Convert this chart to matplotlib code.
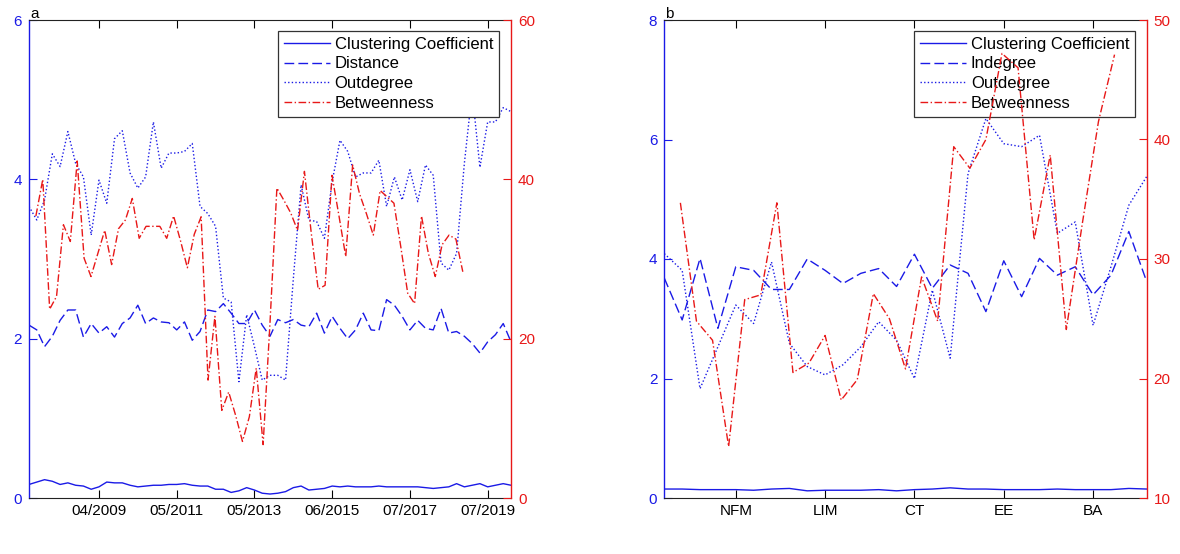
import matplotlib
matplotlib.use("Agg")
import matplotlib.pyplot as plt

plt.rcParams['font.family'] = ['Liberation Sans', 'DejaVu Sans']
plt.rcParams['font.size'] = 11

# ---------------- Panel a data ----------------
a_tick_pos = [10, 20, 30, 40, 50, 60]
a_tick_labels = ["04/2009", "05/2011", "05/2013", "06/2015", "07/2017", "07/2019"]

a_clustering = [0.17, 0.20, 0.23, 0.21, 0.17, 0.19, 0.16, 0.15, 0.11, 0.14,
                0.20, 0.19, 0.19, 0.16, 0.14, 0.15, 0.16, 0.16, 0.17, 0.17,
                0.18, 0.16, 0.15, 0.15, 0.11, 0.11, 0.07, 0.09, 0.13, 0.10,
                0.06, 0.05, 0.06, 0.08, 0.13, 0.15, 0.10, 0.11, 0.12, 0.15,
                0.14, 0.15, 0.14, 0.14, 0.14, 0.15, 0.14, 0.14, 0.14, 0.14,
                0.14, 0.13, 0.12, 0.13, 0.14, 0.18, 0.14, 0.16, 0.18, 0.14,
                0.16, 0.18, 0.16]
a_distance = [2.17, 2.11, 1.90, 2.03, 2.23, 2.36, 2.36, 2.02, 2.19, 2.07,
              2.15, 2.02, 2.19, 2.26, 2.42, 2.19, 2.26, 2.21, 2.20, 2.11,
              2.21, 1.98, 2.09, 2.36, 2.34, 2.44, 2.32, 2.19, 2.19, 2.36,
              2.17, 2.03, 2.24, 2.20, 2.24, 2.17, 2.15, 2.32, 2.07, 2.28,
              2.13, 2.00, 2.11, 2.32, 2.11, 2.10, 2.49, 2.42, 2.28, 2.11,
              2.23, 2.13, 2.11, 2.38, 2.07, 2.09, 2.03, 1.94, 1.82, 1.96,
              2.05, 2.19, 1.96]
a_outdegree = [3.66, 3.49, 3.74, 4.32, 4.16, 4.60, 4.20, 4.03, 3.30, 3.99,
               3.70, 4.51, 4.61, 4.08, 3.89, 4.03, 4.72, 4.14, 4.33, 4.33,
               4.35, 4.45, 3.66, 3.57, 3.41, 2.51, 2.46, 1.46, 2.30, 1.90,
               1.48, 1.54, 1.54, 1.48, 2.75, 3.93, 3.49, 3.47, 3.26, 3.97,
               4.49, 4.35, 4.03, 4.08, 4.08, 4.24, 3.66, 4.03, 3.74, 4.12,
               3.72, 4.18, 4.05, 2.95, 2.86, 3.07, 4.20, 5.10, 4.15, 4.72,
               4.72, 4.90, 4.85]
a_betweenness = [35.4, 40.0, 23.7, 25.3, 34.3, 32.2, 42.3, 30.1, 27.8, 30.7,
                 33.6, 29.3, 33.8, 34.9, 37.6, 32.6, 34.1, 34.1, 34.1, 32.6,
                 35.4, 32.3, 28.9, 33.1, 35.3, 14.8, 22.8, 11.0, 13.3, 10.4,
                 7.1, 10.2, 16.3, 6.7, 22.0, 38.9, 37.4, 35.8, 33.6, 41.0,
                 33.2, 26.2, 26.7, 40.5, 35.5, 30.3, 41.8, 38.2, 35.7, 33.0,
                 38.6, 37.8, 37.0, 31.5, 25.7, 24.4, 35.4, 30.7, 27.8, 31.8,
                 33.0, 32.5, 28.4]

# ---------------- Panel b data ----------------
b_tick_pos = [5, 10, 15, 20, 25]
b_tick_labels = ["NFM", "LIM", "CT", "EE", "BA"]

b_clustering = [0.15, 0.15, 0.14, 0.14, 0.14, 0.13, 0.15, 0.16, 0.12, 0.13,
                0.13, 0.13, 0.14, 0.12, 0.14, 0.15, 0.17, 0.15, 0.15, 0.14,
                0.14, 0.14, 0.15, 0.14, 0.14, 0.14, 0.16, 0.15]
b_indegree = [3.68, 2.98, 4.01, 2.84, 3.87, 3.81, 3.49, 3.49, 4.00, 3.81,
              3.59, 3.76, 3.84, 3.54, 4.08, 3.51, 3.90, 3.76, 3.12, 3.97,
              3.37, 4.01, 3.73, 3.87, 3.40, 3.73, 4.46, 3.62]
b_outdegree = [4.09, 3.81, 1.83, 2.53, 3.23, 2.92, 3.95, 2.59, 2.20, 2.06,
               2.23, 2.53, 2.95, 2.64, 2.00, 3.48, 2.34, 5.43, 6.35, 5.93,
               5.88, 6.07, 4.43, 4.62, 2.89, 3.87, 4.90, 5.38]
b_betweenness = [34.7, 24.8, 23.2, 14.3, 26.6, 27.0, 34.7, 20.5, 21.3, 23.6,
                 18.2, 19.9, 27.1, 25.0, 20.8, 28.5, 24.8, 39.4, 37.6, 40.0,
                 47.2, 46.0, 31.6, 38.7, 24.1, 33.0, 41.5, 47.1]

BLUE = '#1a1ae6'
RED = '#e81818'
LW = 1.0
DASH = (7, 3)
DOT = (1, 1.6)
DASHDOT = (5.5, 1.8, 1, 1.8)

fig = plt.figure(figsize=(11.8, 5.54), dpi=100)


def panel(rect, label, xb, clus, mid, out, betw, mid_label, xticks, xticklabels,
          xlim_b, xlim_r, ylim_l, yticks_l, ylim_r, yticks_r, leg_anchor):
    ax = fig.add_axes(rect)
    ax2 = fig.add_axes(rect, label=label + "_right")
    ax2.patch.set_visible(False)

    xr = list(range(1, len(betw) + 1))
    l1, = ax.plot(xb, clus, color=BLUE, lw=LW, ls='-')
    l2, = ax.plot(xb, mid, color=BLUE, lw=LW, dashes=DASH)
    l3, = ax.plot(xb, out, color=BLUE, lw=LW, dashes=DOT)
    l4, = ax2.plot(xr, betw, color=RED, lw=LW, dashes=DASHDOT)

    ax.set_xlim(*xlim_b)
    ax.set_ylim(*ylim_l)
    ax.set_yticks(yticks_l)
    ax.set_xticks(xticks)
    ax.set_xticklabels(xticklabels)
    ax.tick_params(axis='x', direction='in', length=5.5, top=True, colors='black',
                   labelsize=11, pad=4)
    ax.tick_params(axis='y', direction='in', length=5.5, colors=BLUE,
                   labelcolor=BLUE, labelsize=11, pad=5)
    ax.spines['left'].set_color(BLUE)
    ax.spines['right'].set_visible(False)
    for s in ['top', 'bottom']:
        ax.spines[s].set_color('#222222')
        ax.spines[s].set_linewidth(0.8)
    ax.spines['left'].set_linewidth(1.0)

    ax2.set_xlim(*xlim_r)
    ax2.set_ylim(*ylim_r)
    ax2.set_yticks(yticks_r)
    ax2.xaxis.set_visible(False)
    ax2.yaxis.tick_right()
    ax2.yaxis.set_label_position('right')
    ax2.tick_params(axis='y', direction='in', length=5.5, colors=RED,
                    labelcolor=RED, labelsize=11, pad=5)
    for s in ['top', 'bottom', 'left']:
        ax2.spines[s].set_visible(False)
    ax2.spines['right'].set_color(RED)
    ax2.spines['right'].set_linewidth(1.0)

    leg = ax.legend([l1, l2, l3, l4],
                    ['Clustering Coefficient', mid_label, 'Outdegree', 'Betweenness'],
                    loc='upper right', bbox_to_anchor=leg_anchor, borderaxespad=0,
                    fancybox=False, framealpha=1, edgecolor='#333333',
                    fontsize=12, handlelength=2.75, handletextpad=0.3,
                    labelspacing=0.28, borderpad=0.35)
    leg.get_frame().set_linewidth(0.9)
    return ax, ax2


W, H = 1180.0, 554.0
rect_a = [29 / W, (H - 498) / H, (511 - 29) / W, (498 - 20) / H]
rect_b = [664.3 / W, (H - 498) / H, (1146.7 - 664.3) / W, (498 - 20) / H]

xa = list(range(1, len(a_distance) + 1))
panel(rect_a, 'a', xa, a_clustering, a_distance, a_outdegree, a_betweenness,
      'Distance', a_tick_pos, a_tick_labels, (1, 63), (0, 70),
      (0, 6), [0, 2, 4, 6], (0, 60), [0, 20, 40, 60], (0.975, 0.977))

xb = list(range(1, len(b_indegree) + 1))
panel(rect_b, 'b', xb, b_clustering, b_indegree, b_outdegree, b_betweenness,
      'Indegree', b_tick_pos, b_tick_labels, (1, 28), (0, 30),
      (0, 8), [0, 2, 4, 6, 8], (10, 50), [10, 20, 30, 40, 50], (0.976, 0.977))

fig.text(30 / W, (H - 18) / H, 'a', fontsize=11, va='baseline', ha='left')
fig.text(665 / W, (H - 18) / H, 'b', fontsize=11, va='baseline', ha='left')

fig.savefig('out.png', dpi=100)
